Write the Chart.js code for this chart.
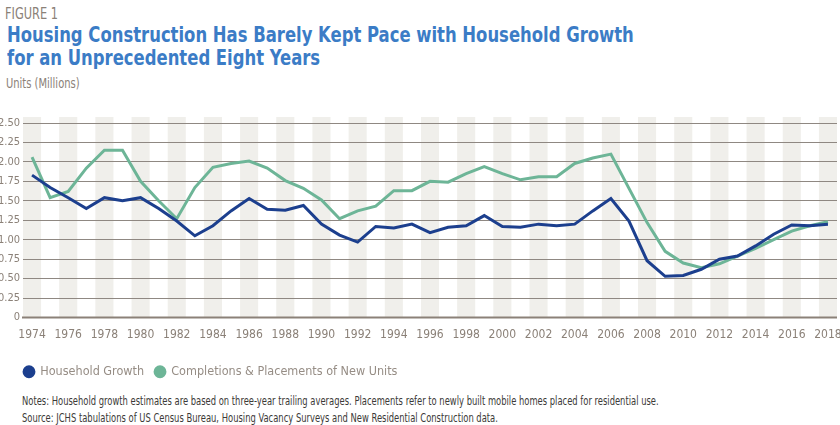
<!DOCTYPE html>
<html>
<head>
<meta charset="utf-8">
<script src="https://cdn.jsdelivr.net/npm/chart.js@4"></script>
<style>
  body { margin: 0; width: 840px; height: 425px; background: #fff; overflow: hidden;
         font-family: "DejaVu Sans Condensed", "DejaVu Sans", sans-serif; position: relative; }
  .fig, .title, .units, .notes { position: absolute; transform-origin: 0 0; white-space: nowrap; }
  .fig { left: 5px; top: 4px; font-size: 16px; color: #8b8178; transform: scaleX(0.79); }
  .title { left: 7px; top: 24px; font-size: 21px; line-height: 23px; font-weight: bold; color: #3b7cc6; transform: scaleX(0.87); }
  .units { left: 6px; top: 75px; font-size: 14px; color: #8b8178; transform: scaleX(0.79); }
  #wrap { position: absolute; left: 0; top: 100px; width: 840px; height: 288px; }
  .notes { left: 22px; top: 393px; font-size: 13px; line-height: 16.5px; color: #3c3a38; transform: scaleX(0.717); }
</style>
</head>
<body>
<div class="fig">FIGURE 1</div>
<div class="title">Housing Construction Has Barely Kept Pace with Household Growth<br>for an Unprecedented Eight Years</div>
<div class="units">Units (Millions)</div>
<div id="wrap"><canvas id="chart"></canvas></div>
<div class="notes">Notes: Household growth estimates are based on three-year trailing averages. Placements refer to newly built mobile homes placed for residential use.<br>Source: JCHS tabulations of US Census Bureau, Housing Vacancy Surveys and New Residential Construction data.</div>
<script>
// Data
const years = [];
for (let y = 1974; y <= 2018; y++) years.push(y);

const householdGrowth = [
  1.83, 1.67, 1.54, 1.40, 1.54, 1.50, 1.54, 1.40, 1.24, 1.05,
  1.18, 1.37, 1.53, 1.39, 1.38, 1.44, 1.20, 1.06, 0.97, 1.17,
  1.15, 1.20, 1.09, 1.16, 1.18, 1.31, 1.17, 1.16, 1.20, 1.18,
  1.20, 1.37, 1.53, 1.24, 0.73, 0.53, 0.54, 0.62, 0.75, 0.79,
  0.92, 1.07, 1.19, 1.18, 1.20
];
const completions = [
  2.06, 1.54, 1.62, 1.92, 2.15, 2.15, 1.75, 1.50, 1.27, 1.67,
  1.93, 1.98, 2.01, 1.92, 1.76, 1.66, 1.51, 1.27, 1.37, 1.43,
  1.63, 1.63, 1.75, 1.74, 1.85, 1.94, 1.85, 1.77, 1.81, 1.81,
  1.98, 2.05, 2.10, 1.66, 1.22, 0.85, 0.70, 0.64, 0.69, 0.79,
  0.89, 1.00, 1.11, 1.18, 1.23
];

const NAVY = '#1c3f8e';
const GREEN = '#6db597';
const GREY = '#8b8178';
const FONT = '"DejaVu Sans Condensed", "DejaVu Sans", sans-serif';

// shaded columns behind even years + bottom axis line
const bandsPlugin = {
  id: 'bands',
  afterUpdate(chart) {
    // legend starts a bit in from the left edge
    if (chart.legend) chart.legend.left = 13;
  },
  beforeDraw(chart) {
    const { ctx, chartArea, scales } = chart;
    const x = scales.x;
    const w = (x.getPixelForValue(1) - x.getPixelForValue(0));
    ctx.save();
    ctx.fillStyle = '#f0efeb';
    years.forEach((yr, i) => {
      if (yr % 2 === 0) {
        const cx = x.getPixelForValue(i);
        ctx.fillRect(cx - w / 2, chartArea.top - 6, w, chartArea.bottom - chartArea.top + 6);
      }
    });
    ctx.restore();
  },
  afterDatasetsDraw(chart) {
    const { ctx, chartArea } = chart;
    ctx.save();
    ctx.strokeStyle = '#8b8178';
    ctx.lineWidth = 2;
    ctx.beginPath();
    ctx.moveTo(chartArea.left - 1, chartArea.bottom);
    ctx.lineTo(chartArea.right, chartArea.bottom);
    ctx.stroke();
    ctx.restore();
  }
};

new Chart(document.getElementById('chart'), {
  type: 'line',
  data: {
    labels: years,
    datasets: [
      { label: 'Household Growth', data: householdGrowth, borderColor: NAVY, backgroundColor: NAVY,
        borderWidth: 3, pointRadius: 0, tension: 0, order: 1 },
      { label: 'Completions & Placements of New Units', data: completions, borderColor: GREEN, backgroundColor: GREEN,
        borderWidth: 3, pointRadius: 0, tension: 0, order: 2 }
    ]
  },
  options: {
    responsive: true,
    maintainAspectRatio: false,
    animation: false,
    layout: { padding: { top: 23, right: 3, left: 0, bottom: 0 } },
    plugins: {
      tooltip: { enabled: false },
      legend: {
        position: 'bottom',
        align: 'start',
        labels: {
          usePointStyle: true,
          pointStyle: 'circle',
          boxWidth: 10,
          boxHeight: 7,
          padding: 11,
          color: '#968d85',
          font: { family: FONT, size: 12.5 }
        }
      }
    },
    scales: {
      x: {
        offset: true,
        grid: { display: true, drawOnChartArea: false, drawTicks: true, tickLength: 8, color: 'rgba(0,0,0,0)' },
        border: { display: false },
        ticks: {
          autoSkip: false,
          maxRotation: 0,
          padding: 2,
          color: GREY,
          font: { family: FONT, size: 12 },
          callback: function (v, i) { return years[i] % 2 === 0 ? String(years[i]) : ''; }
        },
        afterFit(scale) {
          scale.height = 37;
          scale.paddingLeft = 0;
          scale.paddingRight = 0;
        }
      },
      y: {
        min: 0,
        max: 2.5,
        grid: { color: '#8f8882', lineWidth: 1, borderDash: [2, 3.5], drawTicks: false },
        border: { display: false },
        ticks: {
          stepSize: 0.25,
          padding: 3,
          color: GREY,
          font: { family: FONT, size: 11 },
          callback: v => v === 0 ? '0' : v.toFixed(2)
        },
        afterFit(scale) { scale.width = 23; }
      }
    }
  },
  plugins: [bandsPlugin]
});
</script>
</body>
</html>
